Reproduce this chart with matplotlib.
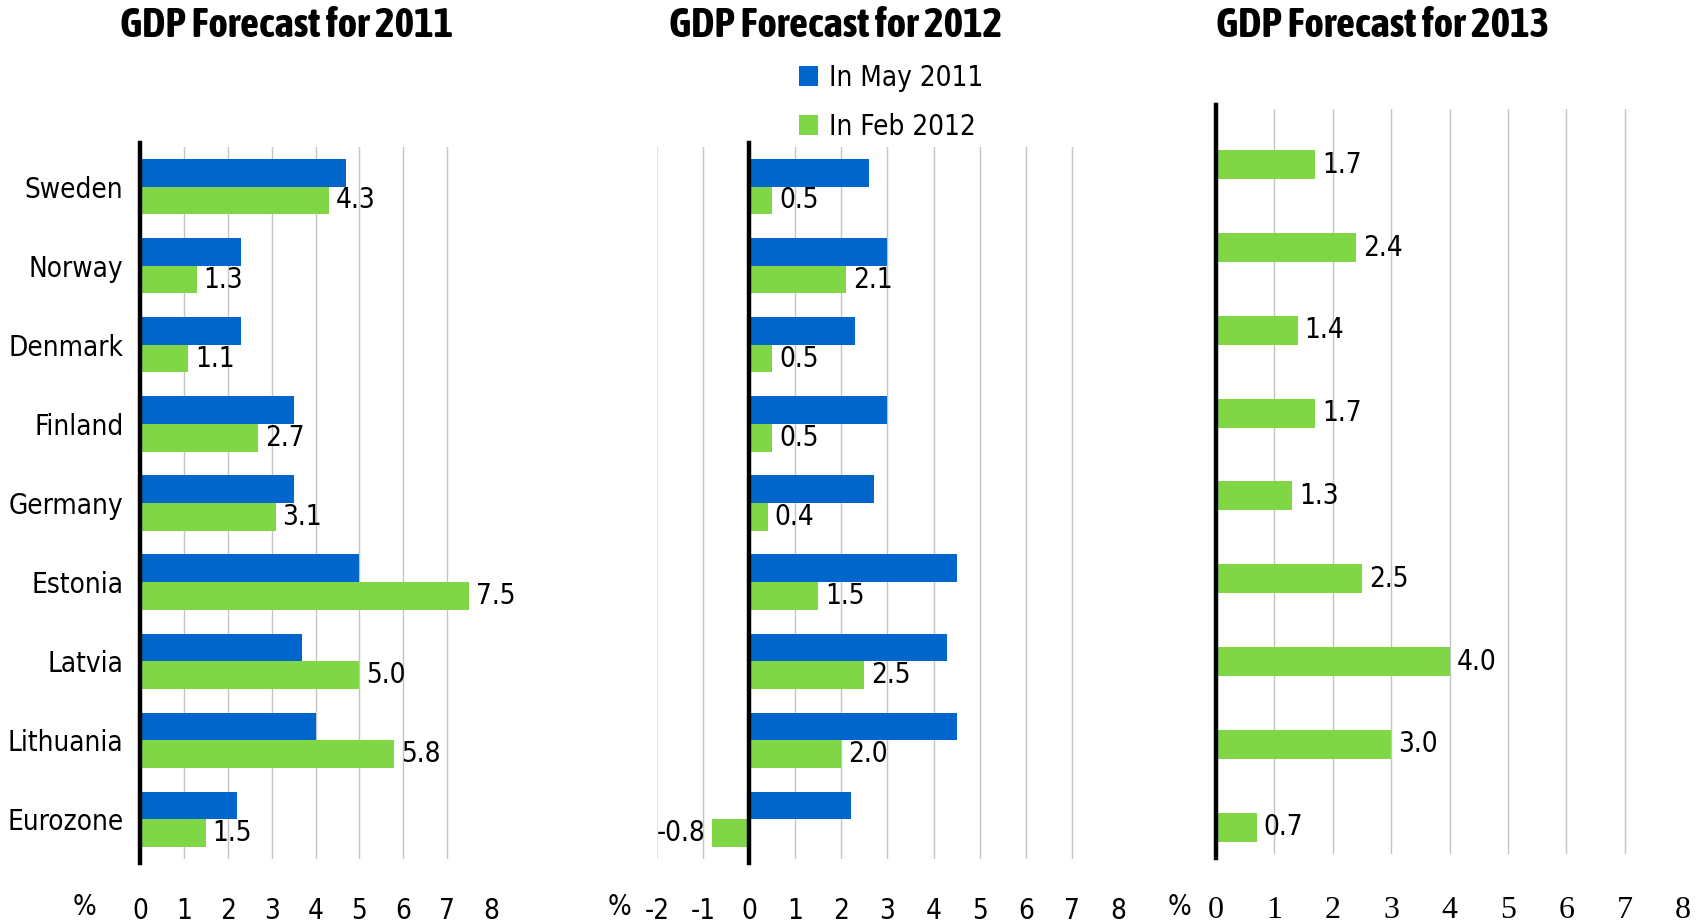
import numpy as np
import matplotlib
matplotlib.use("Agg")
import matplotlib.pyplot as plt

plt.rcParams["font.family"] = ["DejaVu Sans"]
plt.rcParams["font.stretch"] = "condensed"

countries = ["Sweden", "Norway", "Denmark", "Finland", "Germany",
             "Estonia", "Latvia", "Lithuania", "Eurozone"]
may11_2011 = [4.7, 2.3, 2.3, 3.5, 3.5, 5.0, 3.7, 4.0, 2.2]
feb12_2011 = [4.3, 1.3, 1.1, 2.7, 3.1, 7.5, 5.0, 5.8, 1.5]
may11_2012 = [2.6, 3.0, 2.3, 3.0, 2.7, 4.5, 4.3, 4.5, 2.2]
feb12_2012 = [0.5, 2.1, 0.5, 0.5, 0.4, 1.5, 2.5, 2.0, -0.8]
feb12_2013 = [1.7, 2.4, 1.4, 1.7, 1.3, 2.5, 4.0, 3.0, 0.7]
titles = ["GDP Forecast for 2011", "GDP Forecast for 2012", "GDP Forecast for 2013"]
legend_labels = ["In May 2011", "In Feb 2012"]

BLUE = "#0066cc"
GREEN = "#80d645"
H = 0.35
FS = 20

fig = plt.figure(figsize=(17.05, 9.24), dpi=100)
ax1 = fig.add_axes([0.0821, 0.0703, 0.2059, 0.7706])
ax2 = fig.add_axes([0.3853, 0.0703, 0.2704, 0.7706])
ax3 = fig.add_axes([0.7132, 0.0758, 0.2739, 0.8062])

y = np.arange(len(countries))


def style(ax, lo, hi, pct_x, pad=27, pct_dy=-48, tickfont=None, ticksize=FS):
    ax.set_xlim(lo, hi)
    ax.set_ylim(len(countries) - 0.5, -0.5)
    for s in ax.spines.values():
        s.set_visible(False)
    for g in range(lo, hi):
        if g == 0:
            continue
        ax.axvline(g, color="#c4c4c4" if g != lo else "#e4e4e4", lw=1.0, zorder=0)
    ax.axvline(0, color="black", lw=3.2, zorder=3, ymin=-0.006, ymax=1.006, clip_on=False)
    ax.set_xticks(range(lo, hi + 1))
    labels = ax.set_xticklabels([str(v) for v in range(lo, hi + 1)], fontsize=ticksize)
    ax.tick_params(axis="x", length=0, pad=pad)
    if tickfont:
        for t in labels:
            t.set_fontfamily(tickfont)
            t.set_fontstretch("normal")
            t.set_fontsize(ticksize)
    # percent sign sits on the tick label row
    ax.annotate("%", xy=(pct_x, 0), xycoords="axes fraction",
                xytext=(0, pct_dy), textcoords="offset pixels",
                fontsize=FS, ha="center", va="center")


def value_labels(ax, vals, offs, gap):
    for yi, v in zip(y + offs, vals):
        if v >= 0:
            ax.text(v + gap, yi, f"{v:.1f}", fontsize=FS, va="center", ha="left")
        else:
            ax.text(v - gap, yi, f"{v:.1f}", fontsize=FS, va="center", ha="right")


# 2011
ax1.barh(y - H / 2, may11_2011, height=H, color=BLUE, zorder=2)
ax1.barh(y + H / 2, feb12_2011, height=H, color=GREEN, zorder=2)
style(ax1, 0, 8, -0.157)
ax1.set_yticks(y)
ax1.set_yticklabels(countries, fontsize=FS)
ax1.tick_params(axis="y", length=0, pad=12)
value_labels(ax1, feb12_2011, H / 2, 0.15)

# 2012
b1 = ax2.barh(y - H / 2, may11_2012, height=H, color=BLUE, zorder=2)
b2 = ax2.barh(y + H / 2, feb12_2012, height=H, color=GREEN, zorder=2)
style(ax2, -2, 8, -0.082)
ax2.set_yticks([])
value_labels(ax2, feb12_2012, H / 2, 0.15)

# 2013: only the Feb 2012 forecast exists
ax3.barh(y + H / 2, feb12_2013, height=H, color=GREEN, zorder=2)
style(ax3, 0, 8, -0.079, pad=30, pct_dy=-53,
      tickfont=["Liberation Serif", "DejaVu Serif"], ticksize=23)
ax3.set_yticks([])
value_labels(ax3, feb12_2013, H / 2, 0.12)

fig.legend([b1, b2], legend_labels, loc="upper left", bbox_to_anchor=(0.462, 0.943),
           frameon=False, fontsize=FS, handlelength=0.7, handleheight=0.7,
           handletextpad=0.4, labelspacing=0.75, borderaxespad=0)

for x, t in zip([0.168, 0.490, 0.811], titles):
    fig.text(x, 0.972, t, fontsize=30, fontweight="bold", ha="center", va="center",
             family=["Asap Condensed", "DejaVu Sans"])

fig.savefig("out.png", dpi=100)
